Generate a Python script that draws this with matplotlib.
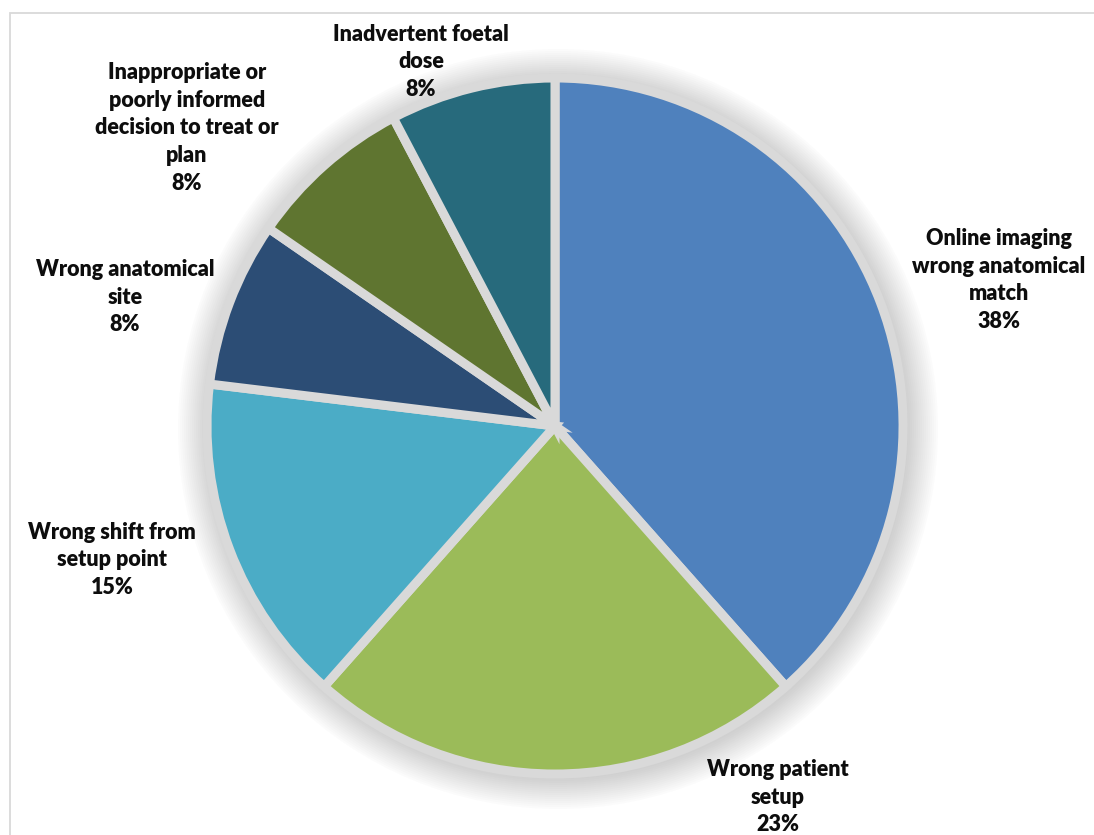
import matplotlib.pyplot as plt
from matplotlib.patches import Circle, Rectangle

# incident categories, counts out of 13 reports
categories = ['Online imaging\nwrong anatomical\nmatch', 'Wrong patient\nsetup',
              'Wrong shift from\nsetup point', 'Wrong anatomical\nsite',
              'Inappropriate or\npoorly informed\ndecision to treat or\nplan',
              'Inadvertent foetal\ndose']
counts = [5, 3, 2, 1, 1, 1]
colors = ['#4F81BD', '#9BBB59', '#4BACC6', '#2C4D75', '#5F7530', '#276A7C']

W, H = 1094, 835
fig = plt.figure(figsize=(W / 100, H / 100), dpi=100)
ax = fig.add_axes([0, 0, 1, 1])
ax.set_xlim(0, W)
ax.set_ylim(0, H)
ax.set_aspect('equal')
ax.axis('off')

# chart area border
ax.add_patch(Rectangle((9.5, -20), W + 20, H - 13 + 20, fill=False,
                       edgecolor='#D9D9D9', linewidth=1.3))

cx, cy = 555, H - 426
R = 348

# soft shadow around the pie
for k in range(32, 0, -2):
    ax.add_patch(Circle((cx + 3, cy - 3), R + k, color='#7F7F7F', alpha=0.022, linewidth=0))
ax.add_patch(Circle((cx, cy), R - 2, color='#D9D9D9', linewidth=0))

explode = [0.06, 0.02, 0, 0, 0, 0]
total = sum(counts)
ax.pie(counts, colors=colors, startangle=90, counterclock=False,
       center=(cx, cy), radius=R, explode=explode, frame=True,
       wedgeprops=dict(edgecolor='#D9D9D9', linewidth=6.5))
ax.set_xlim(0, W)
ax.set_ylim(0, H)
ax.axis('off')

# label positions (pixels, centre of text block)
label_xy = [(999, 280), (778, 797), (112, 560), (125, 297), (187, 128), (421, 62)]
for lab, n, (x, y) in zip(categories, counts, label_xy):
    pct = '%d%%' % round(100.0 * n / total)
    ax.text(x, H - y, lab + '\n' + pct, ha='center', va='center',
            multialignment='center', fontsize=15.5, fontweight='heavy',
            family='Lato', linespacing=1.4, color='#0D0D0D')

fig.savefig('out.png', dpi=100)
